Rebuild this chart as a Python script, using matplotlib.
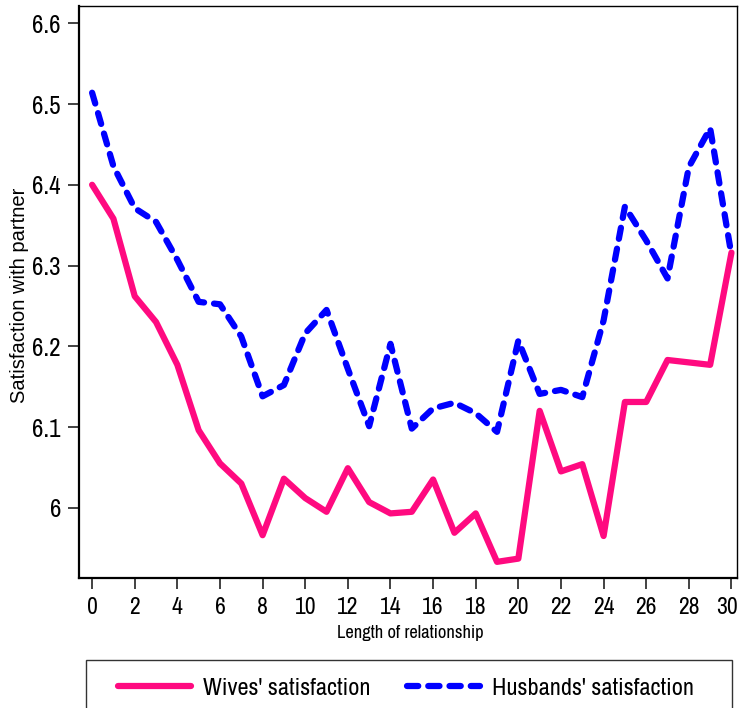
import matplotlib
matplotlib.use("Agg")
import matplotlib.pyplot as plt
import matplotlib.transforms as mtransforms
from matplotlib.patches import Rectangle

years = list(range(0, 31))
wives = [6.400, 6.358, 6.262, 6.230, 6.177, 6.096, 6.055, 6.030, 5.966, 6.036,
         6.012, 5.995, 6.049, 6.007, 5.993, 5.995, 6.035, 5.969, 5.993, 5.933,
         5.937, 6.120, 6.045, 6.054, 5.965, 6.131, 6.131, 6.183, 6.180, 6.177,
         6.316]
husbands = [6.514, 6.423, 6.371, 6.354, 6.307, 6.255, 6.252, 6.212, 6.138, 6.152,
            6.216, 6.245, 6.172, 6.101, 6.203, 6.098, 6.123, 6.130, 6.117, 6.094,
            6.207, 6.141, 6.146, 6.137, 6.232, 6.373, 6.331, 6.284, 6.422, 6.470,
            6.313]
xticks = list(range(0, 31, 2))
yticks = [6.0, 6.1, 6.2, 6.3, 6.4, 6.5, 6.6]
ytick_labels = ["6", "6.1", "6.2", "6.3", "6.4", "6.5", "6.6"]
labels = ["Wives' satisfaction", "Husbands' satisfaction"]

narrow = ["Archivo Narrow", "PT Sans Narrow", "Liberation Sans Narrow",
          "Roboto Condensed", "DejaVu Sans"]

W, H = 739, 708
fig = plt.figure(figsize=(W / 100, H / 100), dpi=100)
ax = fig.add_axes([79 / W, 1 - 578 / H, (737 - 79) / W, (578 - 6) / H])

pink = "#FF0A80"
blue = "#0000FF"
l1, = ax.plot(years, wives, color=pink, lw=4.5, solid_capstyle="round",
              solid_joinstyle="round", label=labels[0])
l2, = ax.plot(years, husbands, color=blue, lw=4.5, dash_capstyle="round",
              label=labels[1])
l2.set_dashes([1.8, 1.6])

ax.set_xlim(-0.615, 30.26)
ax.set_ylim(5.913, 6.6214)
ax.set_xticks(xticks)
ax.set_xticklabels([str(v) for v in xticks], family=narrow, fontsize=17)
ax.set_yticks(yticks)
ax.set_yticklabels(ytick_labels, family=narrow, fontsize=18)
ax.tick_params(axis="both", direction="out", length=8, width=1.2, color="#222222", pad=5)
ax.tick_params(axis="x", pad=6)

# keep the last x tick label inside the figure edge
last = ax.get_xticklabels()[-1]
last.set_transform(last.get_transform() +
                   mtransforms.ScaledTranslation(-4 / 100, 0, fig.dpi_scale_trans))

for s in ["left", "bottom"]:
    ax.spines[s].set_linewidth(1.6)
for s in ["top", "right"]:
    ax.spines[s].set_linewidth(1.0)

ax.set_xlabel("Length of relationship", family=narrow, fontsize=13.3)
ax.xaxis.set_label_coords((410 - 79) / 658, (578 - 633) / 572)
ax.xaxis.label.set_va("center")
ax.set_ylabel("Satisfaction with partner", family=["Liberation Sans", "DejaVu Sans"],
              fontsize=14.5)
ax.yaxis.set_label_coords((20 - 79) / 658, (578 - 295) / 572)
ax.yaxis.label.set_va("center")

# legend frame (extends below figure edge)
fig.patches.append(Rectangle((86 / W, -0.05), (732 - 86) / W, (1 - 660 / H) + 0.05,
                             transform=fig.transFigure, fill=False, lw=1.0,
                             edgecolor="#333333"))
leg = fig.legend(handles=[l1, l2], labels=labels, loc="center",
                 bbox_to_anchor=(406 / W, 1 - 688 / H), ncol=2, frameon=False,
                 handlelength=3.0, handletextpad=0.5, columnspacing=1.5,
                 prop={"family": narrow, "size": 17.5})

fig.savefig("out.png", dpi=100)
